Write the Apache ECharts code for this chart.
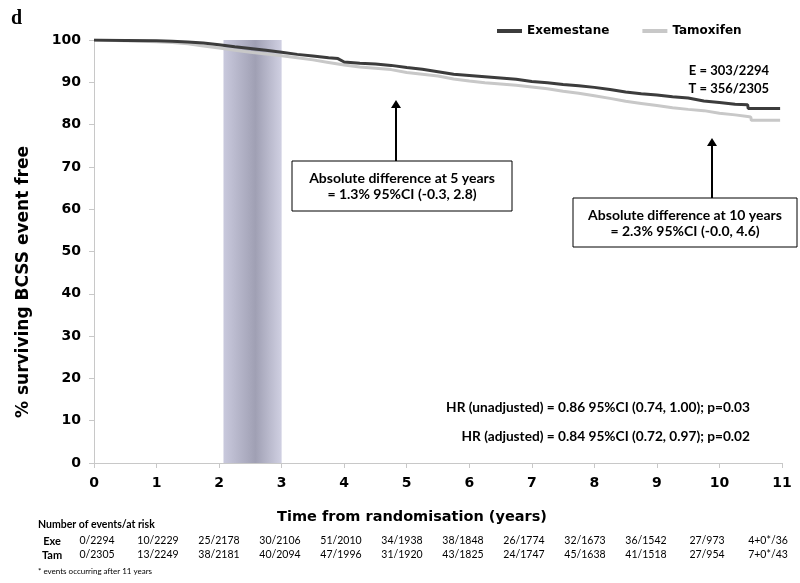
<!DOCTYPE html>
<html><head><meta charset="utf-8">
<script src="https://cdn.jsdelivr.net/npm/echarts@6/dist/echarts.min.js"></script>
<style>html,body{margin:0;padding:0;background:#fff}#c{width:800px;height:583px}</style>
</head><body><div id="c"></div>
<script>
// ---- data ----
const exeTime = [0,0.5,1.0,1.25,1.5,1.75,2.0,2.25,2.5,2.75,3.0,3.25,3.5,3.75,3.9,4.0,4.25,4.5,4.75,5.0,5.25,5.5,5.75,6.0,6.25,6.5,6.75,7.0,7.25,7.5,7.75,8.0,8.25,8.5,8.75,9.0,9.25,9.5,9.75,10.0,10.25,10.45,10.46,10.97];
const exeSurv = [100,99.9,99.8,99.7,99.5,99.3,98.9,98.4,98.0,97.6,97.1,96.6,96.2,95.8,95.6,94.8,94.5,94.3,94.0,93.5,93.1,92.5,91.9,91.6,91.3,91.0,90.7,90.2,89.9,89.5,89.2,88.8,88.3,87.7,87.3,87.0,86.6,86.3,85.6,85.2,84.8,84.7,83.8,83.8];
const tamTime = [0,0.5,1.0,1.25,1.5,1.75,2.0,2.25,2.5,2.75,3.0,3.25,3.5,3.75,4.0,4.25,4.5,4.75,5.0,5.25,5.5,5.75,6.0,6.25,6.5,6.75,7.0,7.25,7.5,7.75,8.0,8.25,8.5,8.75,9.0,9.25,9.5,9.75,10.0,10.25,10.45,10.5,10.51,10.97];
const tamSurv = [100,99.8,99.6,99.4,99.1,98.6,98.1,97.6,97.1,96.7,96.3,95.8,95.3,94.7,94.1,93.6,93.3,93.0,92.3,91.9,91.5,90.8,90.3,89.9,89.6,89.3,88.9,88.5,87.9,87.4,86.8,86.2,85.5,85.0,84.5,84.0,83.6,83.3,82.7,82.3,81.9,81.8,81.0,81.0];
const seriesNames = ['Exemestane','Tamoxifen'];
const exeRisk = ['0/2294','10/2229','25/2178','30/2106','51/2010','34/1938','38/1848','26/1774','32/1673','36/1542','27/973','4+0*/36'];
const tamRisk = ['0/2305','13/2249','38/2181','40/2094','47/1996','31/1920','43/1825','24/1747','45/1638','41/1518','27/954','7+0*/43'];
const treatmentWindow = [2.07, 3.0];
const xMin = 0, xMax = 11, xStep = 1;
const yMin = 0, yMax = 100, yStep = 10;

const pair = (t, v) => t.map((x, i) => [x, v[i]]);
const bold14 = {fontFamily:'DejaVu Sans', fontWeight:'bold', fontSize:14, color:'#000'};
const cal = 'Lato';

const chart = echarts.init(document.getElementById('c'), null, {renderer:'canvas'});
const riskAxis = (arr, off) => ({
  type:'value', gridIndex:1, min:xMin, max:xMax, interval:xStep, position:'bottom', offset:off,
  axisLine:{show:false}, axisTick:{show:false}, splitLine:{show:false},
  axisLabel:{margin:0, verticalAlign:'middle', fontFamily:cal, fontSize:10.5, color:'#000',
    showMinLabel:true, showMaxLabel:true, formatter:v => arr[Math.round(v)] || ''}
});
chart.setOption({
  animation:false,
  backgroundColor:'#fff',
  grid:[{left:94, right:18, top:40, bottom:120, containLabel:false},
        {left:97, right:32, top:40, bottom:120, containLabel:false, show:false}],
  legend:{data:seriesNames, left:497, top:25, itemWidth:25, itemHeight:4, itemGap:33, icon:'rect', padding:0,
    textStyle:{fontFamily:'DejaVu Sans', fontWeight:'bold', fontSize:12, color:'#000'}},
  xAxis:[{
    type:'value', gridIndex:0, min:xMin, max:xMax, interval:xStep,
    axisLine:{lineStyle:{color:'#c8c8c8', width:1}},
    axisTick:{show:true, length:5, lineStyle:{color:'#c8c8c8'}},
    axisLabel:Object.assign({margin:13}, bold14),
    splitLine:{show:false}
  }, riskAxis(exeRisk, 78), riskAxis(tamRisk, 92)],
  yAxis:[{
    type:'value', gridIndex:0, min:yMin, max:yMax, interval:yStep,
    axisLine:{show:true, lineStyle:{color:'#c8c8c8', width:1}},
    axisTick:{show:true, length:5, lineStyle:{color:'#c8c8c8'}},
    axisLabel:Object.assign({margin:13}, bold14),
    splitLine:{show:false}
  }, {type:'value', gridIndex:1, min:yMin, max:yMax, show:false}],
  series:[
    {name:'Tamoxifen', type:'line', showSymbol:false, data:pair(tamTime, tamSurv),
      color:'#c8c8c8', lineStyle:{color:'#c8c8c8', width:3}, z:3,
      markArea:{silent:true, z:1, itemStyle:{color:{type:'linear', x:0, y:0, x2:1, y2:0, colorStops:[
        {offset:0, color:'#c9c9dd'},{offset:0.55, color:'#a0a0b4'},{offset:1, color:'#d0d0e2'}]}},
        data:[[{xAxis:treatmentWindow[0]},{xAxis:treatmentWindow[1]}]]}},
    {name:'Exemestane', type:'line', showSymbol:false, data:pair(exeTime, exeSurv),
      color:'#3c3c3c', lineStyle:{color:'#3c3c3c', width:3}, z:4}
  ],
  graphic:[
    {type:'text', left:11, top:9, style:{text:'d', font:'bold 20px "Liberation Serif"', fill:'#000'}},
    {type:'text', x:24, y:282, rotation:Math.PI/2, style:{text:'% surviving BCSS event free', font:'bold 17px "DejaVu Sans"', fill:'#000', align:'center', verticalAlign:'middle'}},
    {type:'text', x:412, y:517, style:{text:'Time from randomisation (years)', font:'bold 14.5px "DejaVu Sans"', fill:'#000', align:'center', verticalAlign:'middle'}},
    {type:'text', x:253, y:251, rotation:Math.PI/2, style:{text:'End of treatment', font:'bold 14px Lato', fill:'#000', align:'center', verticalAlign:'middle'}},
    {type:'text', x:769, y:71, style:{text:'E = 303/2294', font:'bold 13px Lato', fill:'#000', align:'right', verticalAlign:'middle'}},
    {type:'text', x:769, y:89, style:{text:'T = 356/2305', font:'bold 13px Lato', fill:'#000', align:'right', verticalAlign:'middle'}},
    {type:'line', shape:{x1:396, y1:161, x2:396, y2:106}, style:{stroke:'#000', lineWidth:2}},
    {type:'polygon', shape:{points:[[391,108],[401,108],[396,100]]}, style:{fill:'#000'}},
    {type:'rect', shape:{x:292, y:161, width:220, height:50}, style:{fill:'#fff', stroke:'#000', lineWidth:1}},
    {type:'text', x:402, y:178, style:{text:'Absolute difference at 5 years', font:'bold 14px Lato', fill:'#000', align:'center', verticalAlign:'middle'}},
    {type:'text', x:402, y:194, style:{text:'= 1.3% 95%CI (-0.3, 2.8)', font:'bold 14px Lato', fill:'#000', align:'center', verticalAlign:'middle'}},
    {type:'line', shape:{x1:712, y1:198, x2:712, y2:144}, style:{stroke:'#000', lineWidth:2}},
    {type:'polygon', shape:{points:[[707,146],[717,146],[712,138]]}, style:{fill:'#000'}},
    {type:'rect', shape:{x:573, y:198, width:224, height:49}, style:{fill:'#fff', stroke:'#000', lineWidth:1}},
    {type:'text', x:685, y:215, style:{text:'Absolute difference at 10 years', font:'bold 14px Lato', fill:'#000', align:'center', verticalAlign:'middle'}},
    {type:'text', x:685, y:231, style:{text:'= 2.3% 95%CI (-0.0, 4.6)', font:'bold 14px Lato', fill:'#000', align:'center', verticalAlign:'middle'}},
    {type:'text', x:750, y:408, style:{text:'HR (unadjusted) = 0.86 95%CI (0.74, 1.00); p=0.03', font:'bold 13.7px Lato', fill:'#000', align:'right', verticalAlign:'middle'}},
    {type:'text', x:750, y:437, style:{text:'HR (adjusted) = 0.84 95%CI (0.72, 0.97); p=0.02', font:'bold 13.7px Lato', fill:'#000', align:'right', verticalAlign:'middle'}},
    {type:'text', x:38, y:525, style:{text:'Number of events/at risk', font:'bold 10.5px Lato', fill:'#000', verticalAlign:'middle'}},
    {type:'text', x:52, y:541, style:{text:'Exe', font:'bold 11px Lato', fill:'#000', align:'center', verticalAlign:'middle'}},
    {type:'text', x:52, y:555, style:{text:'Tam', font:'bold 11px Lato', fill:'#000', align:'center', verticalAlign:'middle'}},
    {type:'text', x:38, y:571, style:{text:'* events occurring after 11 years', font:'8px Lato', fill:'#000', verticalAlign:'middle'}}
  ]
});
</script></body></html>
